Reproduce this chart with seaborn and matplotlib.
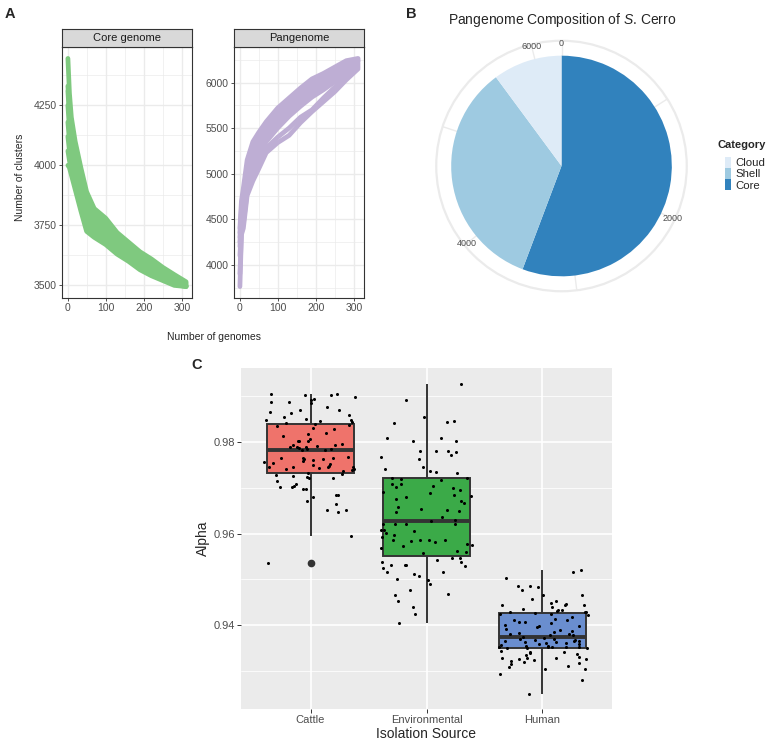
import numpy as np
import pandas as pd
import matplotlib
matplotlib.use("Agg")
import matplotlib.pyplot as plt
from matplotlib.patches import Patch, Circle
from matplotlib.ticker import FixedLocator
import seaborn as sns

# ---------------- data ----------------
# Panel A: rarefaction curves (permutations), values read at these genome counts
genome_counts = [1, 5, 10, 20, 35, 50, 70, 100, 130, 160, 190, 220, 250, 280, 311]
core_perm1 = [4445, 4300, 4200, 4100, 3990, 3890, 3820, 3780, 3720, 3680, 3640, 3610, 3575, 3545, 3515]
core_perm2 = [4330, 4250, 4150, 4060, 3960, 3860, 3800, 3760, 3700, 3660, 3630, 3595, 3565, 3535, 3510]
core_perm3 = [4310, 4200, 4120, 4020, 3940, 3830, 3780, 3740, 3690, 3650, 3615, 3585, 3555, 3530, 3505]
core_perm4 = [4250, 4150, 4080, 3990, 3920, 3800, 3760, 3720, 3670, 3640, 3600, 3570, 3545, 3525, 3500]
core_perm5 = [4180, 4100, 4040, 3960, 3880, 3780, 3740, 3700, 3660, 3625, 3590, 3560, 3535, 3515, 3498]
core_perm6 = [4120, 4060, 4010, 3940, 3850, 3760, 3720, 3690, 3650, 3615, 3580, 3550, 3530, 3510, 3496]
core_perm7 = [4060, 4020, 3980, 3920, 3830, 3740, 3710, 3680, 3640, 3605, 3570, 3545, 3525, 3505, 3495]
core_perm8 = [4000, 3990, 3960, 3900, 3810, 3725, 3700, 3670, 3630, 3600, 3565, 3540, 3520, 3500, 3495]

pan_perm1 = [4400, 4700, 4840, 5150, 5350, 5450, 5570, 5720, 5830, 5940, 6040, 6100, 6170, 6240, 6265]
pan_perm2 = [4350, 4620, 4780, 5080, 5280, 5400, 5520, 5680, 5790, 5900, 6000, 6070, 6140, 6220, 6250]
pan_perm3 = [4300, 4560, 4720, 5020, 5220, 5350, 5480, 5640, 5760, 5870, 5970, 6040, 6120, 6200, 6240]
pan_perm4 = [4250, 4500, 4660, 4960, 5160, 5300, 5440, 5600, 5720, 5830, 5930, 6010, 6090, 6180, 6230]
pan_perm5 = [4200, 4450, 4600, 4900, 5100, 5250, 5400, 5560, 5680, 5780, 5880, 5960, 6050, 6150, 6210]
pan_perm6 = [4100, 4400, 4520, 4850, 5050, 5200, 5350, 5500, 5630, 5740, 5840, 5920, 6010, 6120, 6190]
pan_perm7 = [3900, 4350, 4450, 4800, 4980, 5100, 5280, 5400, 5500, 5620, 5700, 5830, 5950, 6080, 6170]
pan_perm8 = [3760, 4330, 4400, 4760, 4920, 5050, 5230, 5340, 5420, 5560, 5680, 5790, 5900, 6030, 6150]

facet_titles = ["Core genome", "Pangenome"]

# Panel B: pangenome composition
categories = ["Core", "Shell", "Cloud"]
category_counts = [3480, 2131, 632]
legend_order = ["Cloud", "Shell", "Core"]
theta_major = [0, 2000, 4000, 6000]
theta_minor = [1000, 3000, 5000]

# Panel C: alpha by isolation source
sources = ["Cattle", "Environmental", "Human"]
cattle_alpha = [
    0.9905, 0.9904, 0.9902, 0.9902, 0.9898, 0.9893, 0.9891, 0.9887, 0.9886, 0.9885,
    0.9876, 0.9870, 0.9869, 0.9864, 0.9862, 0.9858, 0.9853, 0.9849, 0.9847, 0.9847,
    0.9846, 0.9844, 0.9840,
    0.9838, 0.9836, 0.9835, 0.9831, 0.9828, 0.9820, 0.9818, 0.9812, 0.9807, 0.9802,
    0.9802, 0.9801, 0.9796, 0.9794, 0.9792, 0.9791, 0.9789, 0.9789, 0.9788, 0.9783,
    0.9786, 0.9784, 0.9785, 0.9782,
    0.9766, 0.9765, 0.9764, 0.9764, 0.9762, 0.9762, 0.9760, 0.9759, 0.9755, 0.9754,
    0.9751, 0.9750, 0.9748, 0.9746, 0.9746, 0.9744, 0.9744, 0.9743, 0.9741, 0.9741,
    0.9738, 0.9737,
    0.9732, 0.9730, 0.9728, 0.9726, 0.9724, 0.9722, 0.9721, 0.9715, 0.9708, 0.9704,
    0.9701, 0.9701, 0.9697, 0.9696, 0.9685, 0.9683, 0.9679, 0.9670, 0.9664, 0.9651,
    0.9651, 0.9646, 0.9594, 0.9535,
]
environmental_alpha = [
    0.9927, 0.9891, 0.9855, 0.9846, 0.9844, 0.9841, 0.9809, 0.9809, 0.9801, 0.9801,
    0.9780, 0.9780, 0.9780, 0.9778, 0.9771, 0.9767, 0.9762, 0.9746, 0.9741, 0.9736,
    0.9735, 0.9732, 0.9721, 0.9721, 0.9719, 0.9717,
    0.9709, 0.9709, 0.9704, 0.9701, 0.9699, 0.9695, 0.9690, 0.9688, 0.9685, 0.9681,
    0.9679, 0.9675, 0.9670, 0.9666, 0.9657, 0.9654, 0.9651, 0.9649, 0.9647, 0.9636,
    0.9630, 0.9628,
    0.9621, 0.9621, 0.9621, 0.9620, 0.9608, 0.9607, 0.9605, 0.9601, 0.9596, 0.9592,
    0.9587, 0.9586, 0.9585, 0.9585, 0.9583, 0.9581, 0.9578, 0.9574, 0.9572, 0.9568,
    0.9563, 0.9559, 0.9557, 0.9546, 0.9546, 0.9543, 0.9539, 0.9538, 0.9532, 0.9532,
    0.9532, 0.9530, 0.9525, 0.9517, 0.9517, 0.9511, 0.9507, 0.9500, 0.9499, 0.9491,
    0.9476, 0.9469, 0.9467, 0.9454, 0.9441, 0.9425, 0.9404,
]
human_alpha = [
    0.9520, 0.9516, 0.9503, 0.9486, 0.9485, 0.9483, 0.9476, 0.9467, 0.9465, 0.9458,
    0.9453, 0.9449, 0.9447, 0.9445, 0.9444, 0.9444, 0.9440, 0.9436, 0.9434, 0.9433,
    0.9431, 0.9430, 0.9430, 0.9429,
    0.94275, 0.94254, 0.94239, 0.94217, 0.94181, 0.94145, 0.94123, 0.94109, 0.94072, 0.94072,
    0.94051, 0.94014, 0.93985, 0.93978, 0.93964, 0.93927, 0.93891, 0.93877, 0.93855, 0.93833,
    0.93819, 0.93804, 0.93782, 0.93782,
    0.93746, 0.93724, 0.93710, 0.93710, 0.93688, 0.93674, 0.93659, 0.93659, 0.93652, 0.93637,
    0.93637, 0.93623, 0.93616, 0.93601, 0.93601, 0.93565, 0.93551, 0.93543, 0.93535, 0.93530,
    0.93529, 0.93522, 0.93518, 0.93514, 0.93514, 0.93512,
    0.93442, 0.93420, 0.93420, 0.93398, 0.93369, 0.93348, 0.93311, 0.93297, 0.93290, 0.93290,
    0.93275, 0.93261, 0.93253, 0.93224, 0.93203, 0.93181, 0.93152, 0.93109, 0.93094, 0.93058,
    0.93043, 0.92935, 0.92804, 0.92514,
]

# ---------------- styling ----------------
sns.set_style("white")
plt.rcParams["font.family"] = ["Liberation Sans", "DejaVu Sans"]
plt.rcParams["mathtext.fontset"] = "custom"
plt.rcParams["mathtext.rm"] = "Liberation Sans"
plt.rcParams["mathtext.it"] = "Liberation Sans:italic"

W, H = 767, 741
fig = plt.figure(figsize=(W / 100, H / 100), dpi=100)


def rect(l, t, r, b):
    return [l / W, 1 - b / H, (r - l) / W, (b - t) / H]


DARK = "#333333"
TICKLAB = "#4D4D4D"
GRID = "#EBEBEB"

# ---------------- Panel A ----------------
green = "#7FC97F"
purple = "#BEAED4"
core_sets = [core_perm1, core_perm2, core_perm3, core_perm4, core_perm5, core_perm6, core_perm7, core_perm8]
pan_sets = [pan_perm1, pan_perm2, pan_perm3, pan_perm4, pan_perm5, pan_perm6, pan_perm7, pan_perm8]


def long_df(sets):
    rows = []
    for i, s in enumerate(sets):
        for g, v in zip(genome_counts, s):
            rows.append({"genomes": g, "clusters": v, "perm": i})
    return pd.DataFrame(rows)


facet_specs = [
    (62, 192, core_sets, green, [3500, 3750, 4000, 4250], [3625, 3875, 4125, 4375]),
    (234, 364, pan_sets, purple, [4000, 4500, 5000, 5500, 6000], [3750, 4250, 4750, 5250, 5750, 6250]),
]
for (l, r, sets, col, maj, mnr), title in zip(facet_specs, facet_titles):
    ax = fig.add_axes(rect(l, 47, r, 298))
    df = long_df(sets)
    sns.lineplot(data=df, x="genomes", y="clusters", units="perm", estimator=None,
                 color=col, lw=3.4, solid_capstyle="round", ax=ax, legend=False)
    allv = np.concatenate([np.asarray(s) for s in sets])
    lo, hi = allv.min(), allv.max()
    rng = hi - lo
    ax.set_ylim(lo - 0.05 * rng, hi + 0.05 * rng)
    xr = max(genome_counts) - min(genome_counts)
    ax.set_xlim(min(genome_counts) - 0.05 * xr, max(genome_counts) + 0.05 * xr)
    ax.xaxis.set_major_locator(FixedLocator([0, 100, 200, 300]))
    ax.xaxis.set_minor_locator(FixedLocator([50, 150, 250]))
    ax.yaxis.set_major_locator(FixedLocator(maj))
    ax.yaxis.set_minor_locator(FixedLocator(mnr))
    ax.grid(which="major", color=GRID, lw=1.0)
    ax.grid(which="minor", color=GRID, lw=0.5)
    ax.set_axisbelow(True)
    ax.set_facecolor("white")
    for sp in ax.spines.values():
        sp.set_color(DARK)
        sp.set_linewidth(0.8)
    ax.tick_params(which="major", length=2.5, width=0.6, color=DARK, labelsize=7.5,
                   labelcolor=TICKLAB, pad=1.2, left=True, bottom=True)
    ax.tick_params(which="minor", length=0)
    ax.set_xlabel("")
    ax.set_ylabel("")
    st = fig.add_axes(rect(l, 29, r, 47))
    st.set_facecolor("#D9D9D9")
    st.set_xticks([])
    st.set_yticks([])
    for sp in st.spines.values():
        sp.set_color(DARK)
        sp.set_linewidth(0.8)
    st.text(0.5, 0.5, title, ha="center", va="center", fontsize=8, color="#1A1A1A",
            transform=st.transAxes)

fig.text(20 / W, 1 - 177 / H, "Number of clusters", rotation=90, ha="center", va="center", fontsize=7.5)
fig.text(214 / W, 1 - 337 / H, "Number of genomes", ha="center", va="center", fontsize=7.5)

# ---------------- Panel B ----------------
blues = {"Cloud": "#DEEBF7", "Shell": "#9ECAE1", "Core": "#3182BD"}
axb = fig.add_axes(rect(423, 28, 700, 304))
total = sum(category_counts)
axb.pie(category_counts, colors=[blues[c] for c in categories], startangle=90,
        counterclock=False, radius=1.0, wedgeprops=dict(linewidth=0))
ring_r = 1.1355
axb.add_patch(Circle((0, 0), ring_r, fill=False, ec=GRID, lw=1.6, zorder=0.5))
for v in theta_major + theta_minor:
    a = v / total * 2 * np.pi
    axb.plot([0, ring_r * np.sin(a)], [0, ring_r * np.cos(a)], color=GRID, lw=1.0, zorder=0.4)
for v in theta_major:
    a = v / total * 2 * np.pi
    axb.text(1.115 * np.sin(a), 1.115 * np.cos(a), str(v), ha="center", va="center",
             fontsize=6.5, color=TICKLAB, zorder=3)
axb.set_xlim(-1.251, 1.251)
axb.set_ylim(-1.251, 1.251)
axb.set_aspect("equal")
axb.set_xticks([])
axb.set_yticks([])
for sp in axb.spines.values():
    sp.set_visible(True)
    sp.set_color(DARK)
    sp.set_linewidth(0.8)
fig.text(562 / W, 1 - 20 / H, r"Pangenome Composition of $\mathit{S}$. Cerro", ha="center",
         va="center", fontsize=10)
fig.text(717 / W, 1 - 145 / H, "Category", ha="left", va="center", fontsize=8, fontweight="bold")
handles = [Patch(facecolor=blues[c], edgecolor="none", label=c) for c in legend_order]
leg = fig.legend(handles=handles, loc="upper left",
                 bbox_to_anchor=(724.5 / W, 1 - 157 / H), frameon=False, fontsize=8.2,
                 handlelength=0.55, handleheight=1.05, handletextpad=0.4,
                 labelspacing=0.0, borderpad=0, borderaxespad=0)

# ---------------- Panel C ----------------
axC = fig.add_axes(rect(241, 368, 612, 709))
axC.set_facecolor(GRID)
dfc = pd.DataFrame({
    "source": (["Cattle"] * len(cattle_alpha) + ["Environmental"] * len(environmental_alpha)
               + ["Human"] * len(human_alpha)),
    "alpha": cattle_alpha + environmental_alpha + human_alpha,
})
box_pal = {"Cattle": "#EF736B", "Environmental": "#3BAA48", "Human": "#6A8ECF"}
sns.boxplot(data=dfc, x="source", y="alpha", hue="source", order=sources, hue_order=sources,
            palette=box_pal, saturation=1, width=0.75, linecolor=DARK, linewidth=1.4,
            showcaps=False, legend=False,
            flierprops=dict(marker="o", markersize=4.5, markerfacecolor=DARK, markeredgecolor=DARK),
            medianprops=dict(linewidth=2.8), ax=axC)
np.random.seed(7)
sns.stripplot(data=dfc, x="source", y="alpha", order=sources, color="black", size=2.2,
              jitter=0.4, linewidth=0, ax=axC, zorder=4)
allc = np.asarray(dfc["alpha"])
crng = allc.max() - allc.min()
axC.set_ylim(allc.min() - 0.05 * crng, allc.max() + 0.05 * crng)
axC.set_xlim(-0.6, 2.6)
axC.yaxis.set_major_locator(FixedLocator([0.94, 0.96, 0.98]))
axC.yaxis.set_minor_locator(FixedLocator([0.93, 0.95, 0.97, 0.99]))
axC.set_yticklabels(["0.94", "0.96", "0.98"])
axC.grid(which="major", color="white", lw=1.2)
axC.grid(which="minor", axis="y", color="white", lw=0.55)
axC.set_axisbelow(True)
for sp in axC.spines.values():
    sp.set_visible(False)
axC.tick_params(which="major", length=3, width=0.7, color=DARK, labelsize=8,
                labelcolor=TICKLAB, pad=1.5, left=True, bottom=True)
axC.tick_params(which="minor", length=0)
axC.set_xlabel("")
axC.set_ylabel("")
fig.text(203 / W, 1 - 538 / H, "Alpha", rotation=90, ha="center", va="center", fontsize=10)
fig.text(426 / W, 1 - 734 / H, "Isolation Source", ha="center", va="center", fontsize=10)

# panel tags
fig.text(10 / W, 1 - 14 / H, "A", ha="center", va="center", fontsize=10.5, fontweight="bold")
fig.text(411 / W, 1 - 14 / H, "B", ha="center", va="center", fontsize=10.5, fontweight="bold")
fig.text(197 / W, 1 - 365 / H, "C", ha="center", va="center", fontsize=10.5, fontweight="bold")

fig.savefig("out.png", dpi=100)
